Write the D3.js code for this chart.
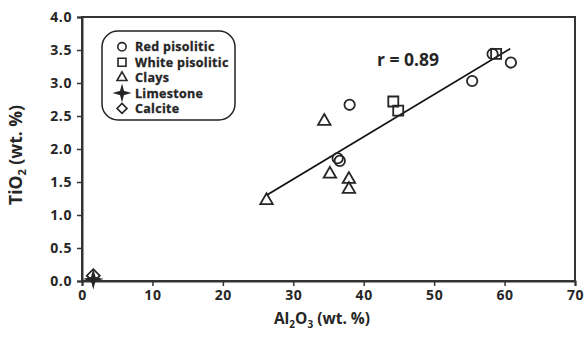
<!DOCTYPE html>
<html><head><meta charset="utf-8">
<script src="https://cdn.jsdelivr.net/npm/d3@7"></script>
<style>body{margin:0;background:#fff}svg{display:block}text{font-family:"Open Sans",Lato,sans-serif;font-weight:bold;fill:#262626}</style>
</head><body><svg id="c" width="587" height="338"></svg>
<script>
const redPisolitic = [[38.0,2.67],[36.3,1.86],[36.6,1.82],[58.3,3.44],[60.9,3.31],[55.4,3.03]];
const whitePisolitic = [[44.2,2.72],[44.9,2.58],[58.8,3.44]];
const clays = [[34.4,2.42],[35.2,1.62],[37.9,1.54],[37.9,1.39],[26.2,1.22]];
const limestone = [[1.6,0.03]];
const calcite = [[1.6,0.08]];
const trendX = [26.2, 60.8];
const trendY = [1.30, 3.52];
const xTicks = [0,10,20,30,40,50,60,70];
const yTicks = [0,0.5,1,1.5,2,2.5,3,3.5,4];
const legendNames = ["Red pisolitic","White pisolitic","Clays","Limestone","Calcite"];
const corrLabel = "r = 0.89";

const svg = d3.select("#c");
const x = d3.scaleLinear().domain([0,70]).range([82,575]);
const y = d3.scaleLinear().domain([0,4]).range([281,17]);
const ink = "#262626";
const FONT = '"Open Sans",Lato,sans-serif';

// frame
svg.append("rect").attr("x",x(0)).attr("y",y(4)).attr("width",x(70)-x(0)).attr("height",y(0)-y(4))
  .attr("fill","none").attr("stroke","#333").attr("stroke-width",2);

const xAxis = svg.append("g").attr("transform",`translate(0,${y(0)})`)
  .call(d3.axisBottom(x).tickValues(xTicks).tickFormat(d3.format("d")).tickSize(5).tickPadding(4));
const yAxis = svg.append("g").attr("transform",`translate(${x(0)},0)`)
  .call(d3.axisLeft(y).tickValues(yTicks).tickFormat(d3.format(".1f")).tickSize(5).tickPadding(5));
[xAxis,yAxis].forEach(a=>{
  a.select(".domain").attr("stroke","#333").attr("stroke-width",2);
  a.selectAll(".tick line").attr("stroke","#333").attr("stroke-width",1.5);
  a.selectAll(".tick text").attr("font-size",14).attr("font-family",FONT).attr("font-weight","bold")
    .attr("letter-spacing",0.6).attr("fill",ink);
});

// trend line
svg.append("line").attr("x1",x(trendX[0])).attr("y1",y(trendY[0])).attr("x2",x(trendX[1])).attr("y2",y(trendY[1]))
  .attr("stroke","#111").attr("stroke-width",1.8);

function starPath(r){ // 4-point star
  const ri=r*0.3; let p=[];
  for(let i=0;i<8;i++){const a=i*Math.PI/4-Math.PI/2; const rr=i%2?ri:r; p.push([rr*Math.cos(a),rr*Math.sin(a)]);}
  return "M"+p.map(q=>q.join(",")).join("L")+"Z";
}
function diamondPath(r){return `M0,${-r}L${r},0L0,${r}L${-r},0Z`;}
function trianglePath(s){const h=s*Math.sqrt(3)/2;return `M0,${-h*2/3}L${s/2},${h/3}L${-s/2},${h/3}Z`;}
const shapes = [
  {data:redPisolitic, d:()=>d3.symbol().type(d3.symbolCircle).size(85)()},
  {data:whitePisolitic, d:()=>"M-5,-5H5V5H-5Z"},
  {data:clays, d:()=>trianglePath(12.5)},
  {data:limestone, d:()=>starPath(7)},
  {data:calcite, d:()=>diamondPath(6.5)}
];
shapes.forEach(s=>{
  svg.append("g").selectAll("path").data(s.data).join("path")
    .attr("transform",d=>`translate(${x(d[0])},${y(d[1])})`)
    .attr("d",s.d()).attr("fill", s.data===limestone? ink : "none")
    .attr("stroke",ink).attr("stroke-width",1.8);
});

// legend
svg.append("rect").attr("x",102).attr("y",31).attr("width",133).attr("height",89).attr("rx",16)
  .attr("fill","#fff").attr("stroke","#222").attr("stroke-width",1.5);
const legendShapes = [
  ()=>d3.symbol().type(d3.symbolCircle).size(55)(),
  ()=>"M-4,-4H4V4H-4Z",
  ()=>trianglePath(10),
  ()=>starPath(6.5),
  ()=>diamondPath(5)
];
legendNames.forEach((n,i)=>{
  const cy = 46.8 + i*15.4;
  svg.append("path").attr("transform",`translate(122,${cy})`).attr("d",legendShapes[i]())
    .attr("fill", i===3? ink:"none").attr("stroke",ink).attr("stroke-width",1.6);
  svg.append("text").attr("x",135).attr("y",cy+4.5).attr("font-family","Lato,sans-serif")
    .attr("font-size",12.5).attr("letter-spacing",0.3).attr("stroke",ink).attr("stroke-width",0.3).text(n);
});

svg.append("text").attr("x",377).attr("y",66).attr("font-size",17.5).text(corrLabel);

// axis titles
const xt = svg.append("text").attr("x",322).attr("y",324).attr("text-anchor","middle").attr("font-size",15.5);
xt.append("tspan").text("Al");
xt.append("tspan").attr("font-size",10).attr("dy",4).text("2");
xt.append("tspan").attr("dy",-4).text("O");
xt.append("tspan").attr("font-size",10).attr("dy",4).text("3");
xt.append("tspan").attr("dy",-4).text(" (wt. %)");

const yt = svg.append("text").attr("transform","translate(22,155) rotate(-90)").attr("text-anchor","middle").attr("font-size",17.5);
yt.append("tspan").text("TiO");
yt.append("tspan").attr("font-size",11).attr("dy",4).text("2");
yt.append("tspan").attr("dy",-4).text(" (wt. %)");
</script></body></html>
